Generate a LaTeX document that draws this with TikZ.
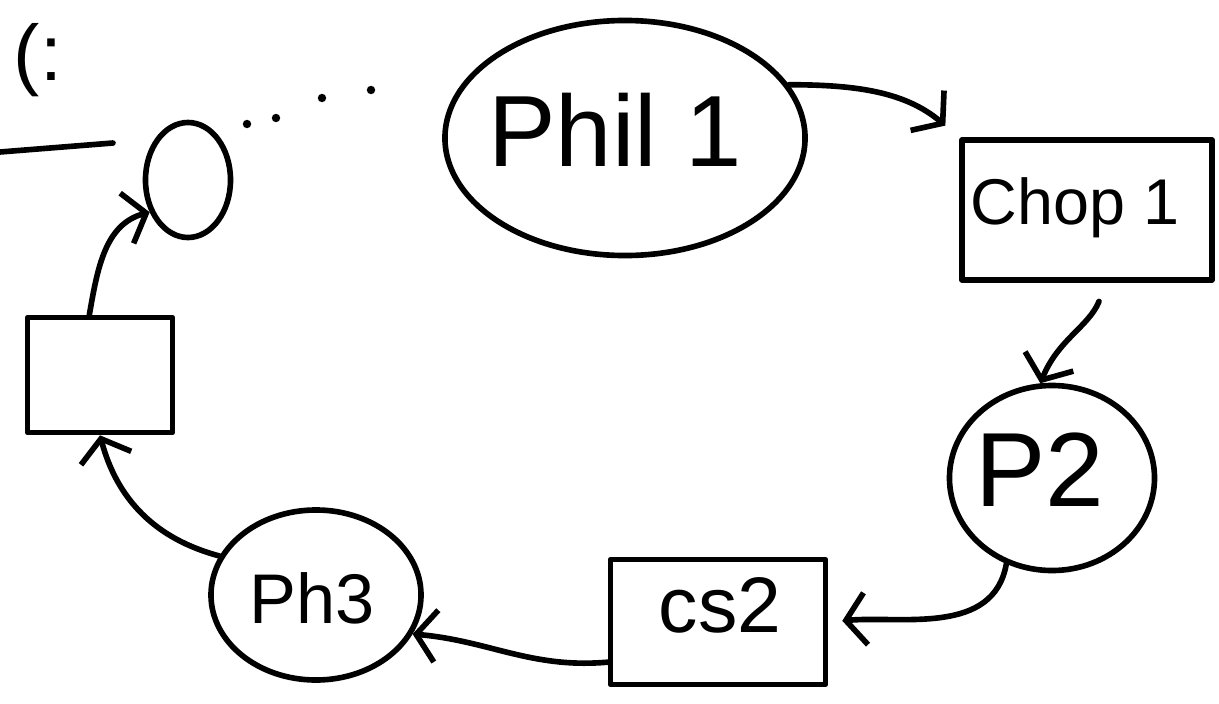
\documentclass[tikz,border=0pt]{standalone}
\usepackage{fontspec}
\setmainfont{Liberation Sans}
\usetikzlibrary{shapes.geometric,arrows.meta}
\begin{document}
\begin{tikzpicture}[x=0.025cm,y=-0.025cm,
  ink/.style={line width=4pt, line cap=round, line join=round},
  ell/.style={ink, draw, ellipse, inner sep=0pt},
  box/.style={ink, draw, rectangle, inner sep=0pt},
  conn/.style={ink, -{Straight Barb[length=5mm,width=13mm]}},
  lbl/.style={inner sep=0pt}
]
\useasboundingbox (0,0) rectangle (1219,704);

% nodes
\node[ell, minimum width=9cm, minimum height=5.875cm] (phil) at (625,138) {};
\node[lbl, font=\fontsize{72}{80}\selectfont] (philt) at (615,130) {Phil 1};

\node[box, minimum width=6.25cm, minimum height=3.5cm] (chop) at (1087,210) {};
\node[lbl, font=\fontsize{46}{52}\selectfont] (chopt) at (1075,208) {Chop 1};

\node[ell, minimum width=5.125cm, minimum height=4.625cm] (p2) at (1052,478) {};
\node[lbl, font=\fontsize{75}{80}\selectfont] (p2t) at (1040,470) {P2};

\node[box, minimum width=5.375cm, minimum height=3.125cm] (cs2) at (718,622) {};
\node[lbl, font=\fontsize{56}{60}\selectfont] (cs2t) at (720,605) {cs2};

\node[ell, minimum width=5.25cm, minimum height=4.25cm] (ph3) at (316,595) {};
\node[lbl, font=\fontsize{50}{54}\selectfont] (ph3t) at (312,598) {Ph3};

\node[box, minimum width=3.625cm, minimum height=2.875cm] (lbox) at (100,375) {};

\node[ell, minimum width=2.125cm, minimum height=2.875cm] (egg) at (188,180) {};

\node[lbl, font=\fontsize{56}{60}\selectfont] (frag) at (38,60) {(:};

% cut-off line at left
\draw[ink] (0,152) -- (113,143);

% dots between egg and Phil 1
\foreach \p in {(247,124),(276,118),(322,98),(371,90)}
  \fill \p circle (3pt);

% connectors
\draw[conn, shorten >=0.45cm] (phil.18) to[out=0,in=140] (chop.north west);
\draw[conn, shorten <=0.5cm] (chop.-75) to[out=-112,in=68] (p2.97);
\draw[conn, shorten >=0.35cm] (p2.-118) to[out=-100,in=5] (cs2.east);
\draw[conn] (cs2.-160) to[out=185,in=-5] (ph3.-22);
\draw[conn] (ph3.158) to[out=165,in=-75] (lbox.south);
\draw[conn] (lbox.100) to[out=80,in=195] (egg.-140);
\end{tikzpicture}
\end{document}
